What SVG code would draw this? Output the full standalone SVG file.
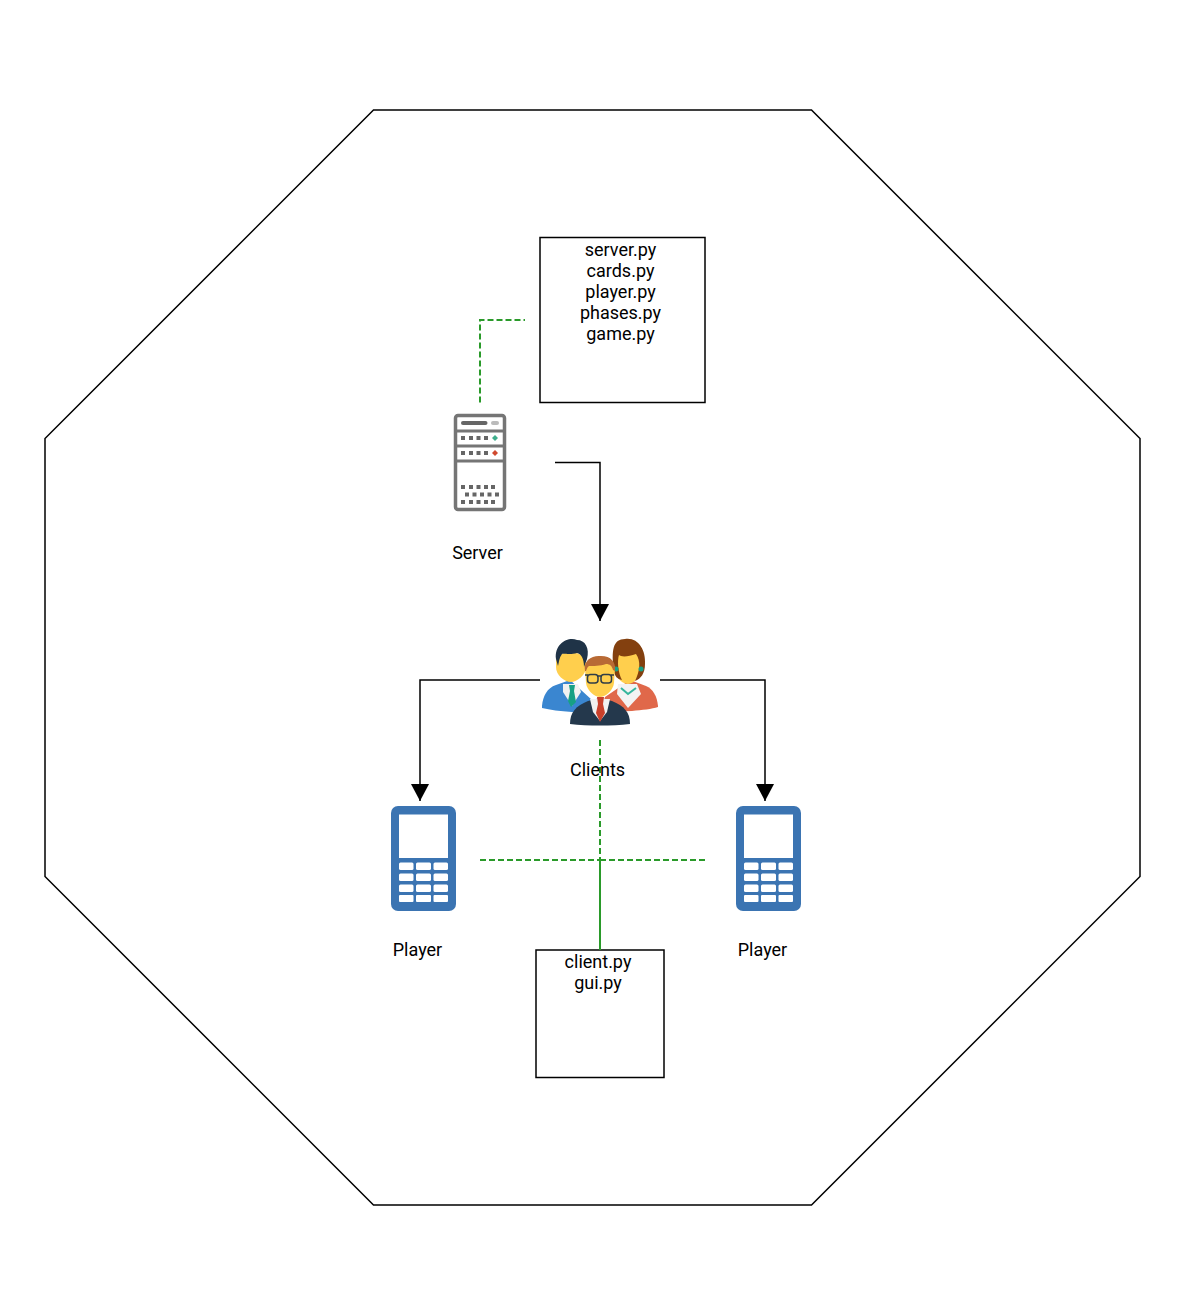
<svg xmlns="http://www.w3.org/2000/svg" width="1177" height="1315" viewBox="0 0 1177 1315">
<style>
text{font-family:Roboto,"Liberation Sans",sans-serif;font-size:18px;fill:#000;text-anchor:middle}
.box{fill:#fff;stroke:#000;stroke-width:1.5}
.solid{fill:none;stroke:#000;stroke-width:1.5}
.dash{fill:none;stroke:#2a9a2a;stroke-width:2;stroke-dasharray:6 3}
.sk{fill:#666}
.key{fill:#fff}
</style>
<defs>
<marker id="arrow" markerUnits="userSpaceOnUse" markerWidth="18" markerHeight="18" refX="17" refY="9" orient="auto" viewBox="0 0 18 18"><path d="M0 0L17 9L0 18Z" fill="#000"/></marker>
<g id="phone">
<rect width="65" height="105" rx="7" fill="#3b74b2"/>
<rect x="8" y="8.500" width="49" height="43.500" fill="#fff"/>
<g class="key">
<rect x="8" y="56.500" width="14.500" height="7.500" rx="1.500"/><rect x="25" y="56.500" width="15" height="7.500" rx="1.500"/><rect x="42.500" y="56.500" width="14.500" height="7.500" rx="1.500"/>
<rect x="8" y="67.500" width="14.500" height="7.500" rx="1.500"/><rect x="25" y="67.500" width="15" height="7.500" rx="1.500"/><rect x="42.500" y="67.500" width="14.500" height="7.500" rx="1.500"/>
<rect x="8" y="78.500" width="14.500" height="7.500" rx="1.500"/><rect x="25" y="78.500" width="15" height="7.500" rx="1.500"/><rect x="42.500" y="78.500" width="14.500" height="7.500" rx="1.500"/>
<rect x="8" y="89" width="14.500" height="7" rx="1"/><rect x="25" y="89" width="15" height="7" rx="1"/><rect x="42.500" y="89" width="14.500" height="7" rx="1"/>
</g>
</g>
</defs>
<rect width="1177" height="1315" fill="#fff"/>
<g id="boundary"><path d="M373.500 110H811.500L1140 438.500V876.500L811.500 1205H373.500L45 876.500V438.500Z" class="box"/></g>
<g id="server-files"><rect x="540" y="237.500" width="165" height="165" class="box"/>
<text x="620.500" y="255.500">server.py</text><text x="620.500" y="276.500">cards.py</text><text x="620.500" y="297.500">player.py</text><text x="620.500" y="318.500">phases.py</text><text x="620.500" y="339.500">game.py</text></g>
<g id="client-files"><rect x="536" y="950" width="128" height="127.500" class="box"/>
<text x="598" y="967.500">client.py</text><text x="598" y="988.500">gui.py</text></g>
<g id="connectors">
<path d="M555 462.500H600V621" class="solid" marker-end="url(#arrow)"/>
<path d="M540 680H420V801" class="solid" marker-end="url(#arrow)"/>
<path d="M660 680H765V801" class="solid" marker-end="url(#arrow)"/>
<path d="M480 402.500V320H525" class="dash"/>
<path d="M600 740V950" class="dash"/>
<path d="M480 860H600V950" class="dash"/>
<path d="M705 860H600V950" class="dash"/>
</g>
<g id="server">
<rect x="455.500" y="415.500" width="49" height="94" rx="2.500" fill="#fff" stroke="#757575" stroke-width="3.500"/>
<path d="M456 431H504M456 446H504M456 461H504" stroke="#757575" stroke-width="3"/>
<rect x="461" y="421" width="26.500" height="4" rx="2" fill="#666"/><rect x="491" y="421" width="8" height="4" rx="2" fill="#bbb"/>
<g class="sk">
<rect x="461" y="436" width="4" height="4"/><rect x="469" y="436" width="4" height="4"/><rect x="476.500" y="436" width="4" height="4"/><rect x="484" y="436" width="4" height="4"/>
<rect x="461" y="451" width="4" height="4"/><rect x="469" y="451" width="4" height="4"/><rect x="476.500" y="451" width="4" height="4"/><rect x="484" y="451" width="4" height="4"/>
<rect x="461" y="485" width="4" height="4"/><rect x="469" y="485" width="4" height="4"/><rect x="476.500" y="485" width="4" height="4"/><rect x="484" y="485" width="4" height="4"/><rect x="491" y="485" width="4" height="4"/>
<rect x="465" y="492.500" width="4" height="4"/><rect x="472.500" y="492.500" width="4" height="4"/><rect x="480" y="492.500" width="4" height="4"/><rect x="487.500" y="492.500" width="4" height="4"/><rect x="495" y="492.500" width="4" height="4"/>
<rect x="461" y="500" width="4" height="4"/><rect x="469" y="500" width="4" height="4"/><rect x="476.500" y="500" width="4" height="4"/><rect x="484" y="500" width="4" height="4"/><rect x="491" y="500" width="4" height="4"/>
</g>
<path d="M495 435L498 438L495 441L492 438Z" fill="#3fae8c"/><path d="M495 450L498 453L495 456L492 453Z" fill="#d0492f"/>
<text x="477.500" y="558.500">Server</text>
</g>
<g id="clients">
<path d="M542 706C543 696 547 688 556 685L570 680L592 700L596 710L572 712C560 711 550 710 542 708Z" fill="#3a86d0"/>
<path d="M563 684L578 684L581 692L572 706L563 692Z" fill="#f1f1f1"/>
<path d="M569 685H575L574 691L576 702L571 707L568 701L570 691Z" fill="#17a085"/>
<path d="M556 660C557 650 583 650 586 660L586 667C586 675 577 682 571 682C564 682 556 675 556 667Z" fill="#ffcf4d"/>
<path d="M556 659C554 643 569 636 577 640C585 640 590 648 587 659L584 667C584 658 581 654 577 653C570 655 563 653 562 654C559 658 559 662 558 666Z" fill="#1f3347"/>
<path d="M658 706C657 696 653 689 646 686L630 680L605 697L600 712L632 711C642 710 652 709 658 707Z" fill="#e0684a"/>
<path d="M618 684H637L641 694L628 708L617 694Z" fill="#f3f3f3"/>
<path d="M621 688L628 694L636 688" fill="none" stroke="#35b59c" stroke-width="2"/>
<path d="M614 658C614 648 640 648 642 658L642 665C642 675 634 684 628 684C621 684 614 675 614 665Z" fill="#ffcf4d"/>
<path d="M614 672C611 650 613 639 625 639C638 637 646 650 645 664C645 673 641 679 635 681C640 671 641 661 636 654C628 657 621 657 619 655C617 661 618 673 622 680C617 679 615 676 614 672Z" fill="#83400f"/>
<circle cx="616" cy="669" r="2.500" fill="#17a085"/><circle cx="641" cy="669" r="2.500" fill="#17a085"/>
<path d="M570 724C570 712 576 706 588 701L600 698L612 701C624 706 630 712 630 724C612 726 588 726 570 724Z" fill="#24384c"/>
<path d="M590 699H610L607 712L600 721L593 712Z" fill="#f1f1f1"/>
<path d="M597 697H604L603 704L605 713L600 722L596 713L598 704Z" fill="#c9402b"/>
<path d="M585 668C585 660 615 660 615 668L614 683C613 691 605 697 600 697C595 697 587 691 586 683Z" fill="#ffcf4d"/>
<path d="M585 671C583 660 592 655 601 656C611 656 616 662 615 671L613 670C612 666 610 664 606 664C600 666 593 666 589 666C587 667 587 669 586 671Z" fill="#b86a35"/>
<g fill="none" stroke="#2f3c47" stroke-width="1.500"><rect x="587.500" y="674.500" width="10.500" height="8.500" rx="3"/><rect x="601" y="674.500" width="10.500" height="8.500" rx="3"/><path d="M598 676H601M585 675H588M611 675H614"/></g>
<text x="597.500" y="775.500">Clients</text>
</g>
<g id="player-left"><use href="#phone" x="391" y="806"/><text x="417.500" y="955.500">Player</text></g>
<g id="player-right"><use href="#phone" x="736" y="806"/><text x="762.500" y="955.500">Player</text></g>
</svg>
